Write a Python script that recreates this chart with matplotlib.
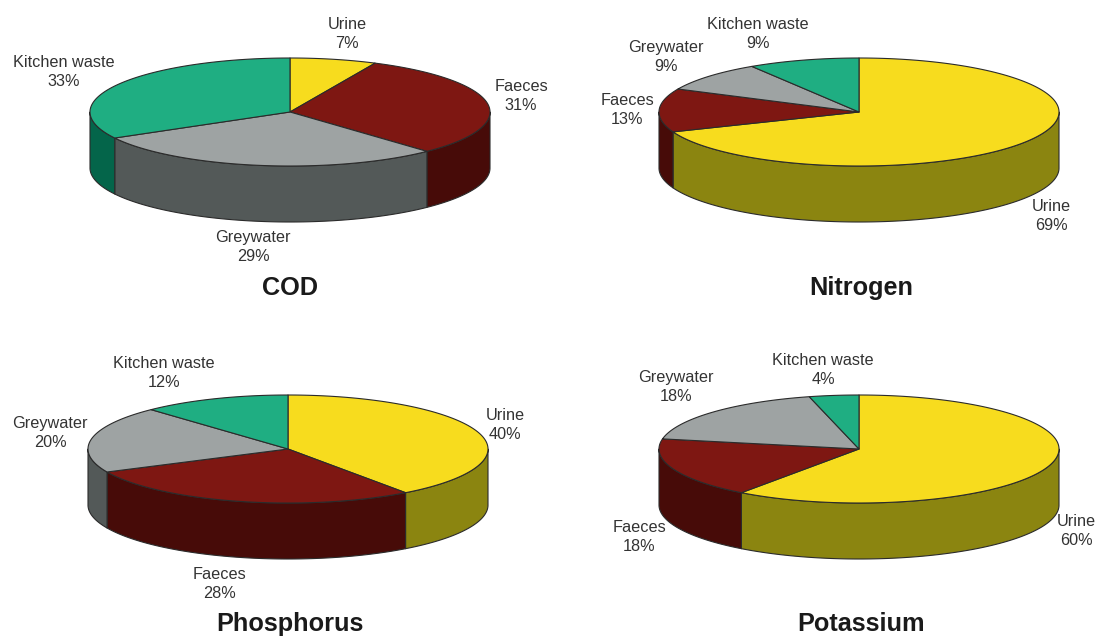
import numpy as np
import matplotlib.pyplot as plt

plt.rcParams["font.family"] = ["Liberation Sans", "DejaVu Sans"]

SOURCES = ["Urine", "Faeces", "Greywater", "Kitchen waste"]
COD = [7, 31, 29, 33]
NITROGEN = [69, 13, 9, 9]
PHOSPHORUS = [40, 28, 20, 12]
POTASSIUM = [60, 18, 18, 4]

TOP_COLORS = ["#f7dc1e", "#7e1712", "#9ea3a3", "#1fae82"]
SIDE_COLORS = ["#8b8510", "#470b08", "#535958", "#04654a"]
EDGE = "#2b2b2b"

RX, RY, DEPTH = 200, 54, 56


def rim(cx, cy, start, end, drop=0):
    # angles run clockwise from twelve o'clock, in degrees
    t = np.radians(np.linspace(start, end, max(2, int(abs(end - start) * 2))))
    return np.column_stack([cx + RX * np.sin(t), cy - RY * np.cos(t) + drop])


def draw_pie(ax, cx, cy, values, title, title_pos, label_pos):
    edges = np.concatenate([[0], np.cumsum(values)]) * 3.6

    # front wall, only the part of each slice facing the viewer
    for i in range(len(values)):
        start, end = max(edges[i], 90), min(edges[i + 1], 270)
        if start < end:
            top = rim(cx, cy, start, end)
            bottom = rim(cx, cy, start, end, DEPTH)
            ax.fill(*np.vstack([top, bottom[::-1]]).T, fc=SIDE_COLORS[i], ec=EDGE, lw=0.8, joinstyle="round")

    for i in range(len(values)):
        arc = rim(cx, cy, edges[i], edges[i + 1])
        ax.fill(*np.vstack([[cx, cy], arc]).T, fc=TOP_COLORS[i], ec=EDGE, lw=0.8, joinstyle="round")

    for i, (x, y) in enumerate(label_pos):
        ax.text(x, y, f"{SOURCES[i]}\n{values[i]}%", ha="center", va="center", fontsize=11.7,
                color="#333333", linespacing=1.36)
    ax.text(*title_pos, title, ha="center", va="center", fontsize=18.2, fontweight="bold", color="#1a1a1a")


fig = plt.figure(figsize=(10.97, 6.36), dpi=100)
ax = fig.add_axes([0, 0, 1, 1])
ax.set_xlim(0, 1097)
ax.set_ylim(636, 0)
ax.axis("off")

draw_pie(ax, 290, 112, COD, "COD", (290, 288), [(347, 34), (521, 96), (253, 247), (64, 72)])
draw_pie(ax, 859, 112, NITROGEN, "Nitrogen", (861, 288), [(1051, 216), (627, 110), (666, 57), (758, 34)])
draw_pie(ax, 288, 449, PHOSPHORUS, "Phosphorus", (290, 624), [(505, 425), (219, 584), (50, 433), (164, 373)])
draw_pie(ax, 859, 449, POTASSIUM, "Potassium", (861, 624), [(1076, 531), (639, 537), (676, 387), (823, 370)])

fig.savefig("out.png", dpi=100)
plt.close(fig)
